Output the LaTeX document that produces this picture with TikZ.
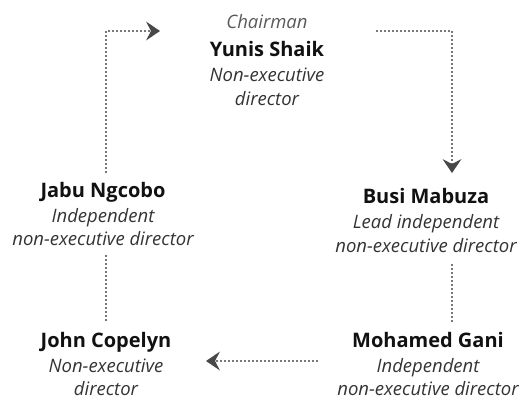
\documentclass[tikz,border=0pt]{standalone}
\usepackage{fontspec}
\setmainfont{Open Sans}
\usetikzlibrary{arrows.meta}
\definecolor{nmc}{HTML}{111111}
\definecolor{rlc}{HTML}{333333}
\definecolor{chc}{HTML}{5A5A5A}
\definecolor{lnc}{HTML}{484848}
\tikzset{
  nm/.style={font=\bfseries\fontsize{20}{24}\selectfont, text=nmc, anchor=base, inner sep=0pt},
  rl/.style={font=\itshape\fontsize{18.5}{22}\selectfont, text=rlc, anchor=base, inner sep=0pt},
  chr/.style={rl, text=chc},
  dots/.style={draw=lnc, line width=2.2pt, line cap=round, dash pattern=on 0pt off 4pt},
  arr/.style={-{Stealth[length=14pt,width=19pt,inset=5pt,fill=lnc,line width=0pt]}}
}
\begin{document}
\begin{tikzpicture}[x=1pt,y=-1pt]
\useasboundingbox (0,0) rectangle (521,399);
% top
\node[chr] (ch) at (267,28) {Chairman};
\node[nm] (ys) at (267,56) {Yunis Shaik};
\node[rl] (ys1) at (267,81) {Non-executive};
\node[rl] (ys2) at (267,105) {director};
% Jabu
\node[nm] (jn) at (103,197) {Jabu Ngcobo};
\node[rl] (jn1) at (103,222) {Independent};
\node[rl] (jn2) at (103,245) {non-executive director};
% Busi
\node[nm] (bm) at (426,203) {Busi Mabuza};
\node[rl] (bm1) at (426,228) {Lead independent};
\node[rl] (bm2) at (426,252) {non-executive director};
% John
\node[nm] (jc) at (106,347) {John Copelyn};
\node[rl] (jc1) at (106,372) {Non-executive};
\node[rl] (jc2) at (106,395) {director};
% Mohamed
\node[nm] (mg) at (428,347) {Mohamed Gani};
\node[rl] (mg1) at (428,372) {Independent};
\node[rl] (mg2) at (428,395) {non-executive director};
% connector points
\coordinate (a1) at (106,172);
\coordinate (a2) at (106,31);
\coordinate (a3) at (160,31);
\coordinate (b1) at (377,31);
\coordinate (b2) at (452,31);
\coordinate (b3) at (452,173);
\coordinate (c1) at (452,265);
\coordinate (c2) at (452,323);
\coordinate (d1) at (317,361);
\coordinate (d2) at (206,361);
\coordinate (e1) at (106,320);
\coordinate (e2) at (106,255);
% connectors
\draw[dots,arr] (a1) -- (a2) -- (a3);
\draw[dots,arr] (b1) -- (b2) -- (b3);
\draw[dots] (c1) -- (c2);
\draw[dots,arr] (d1) -- (d2);
\draw[dots] (e1) -- (e2);
\end{tikzpicture}
\end{document}
